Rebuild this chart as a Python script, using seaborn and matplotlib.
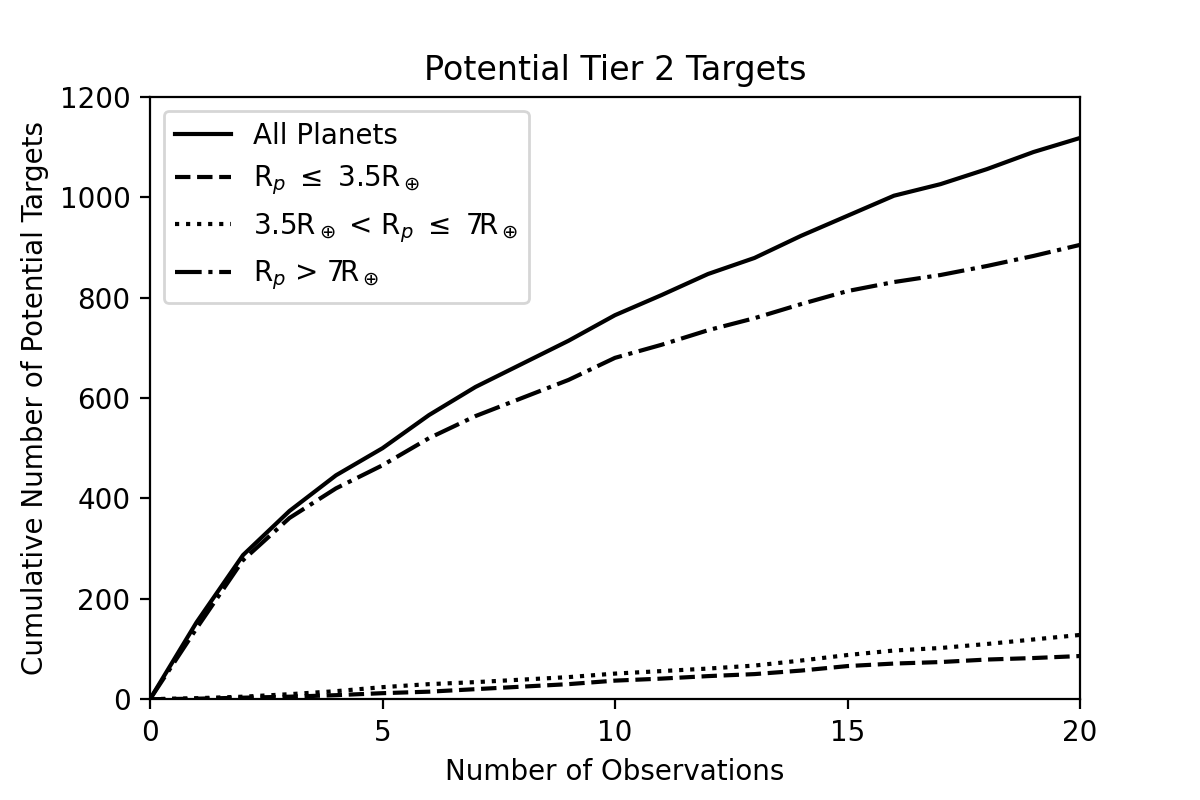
import pandas as pd
import seaborn as sns
import matplotlib
matplotlib.use("Agg")
import matplotlib.pyplot as plt

# values
n_obs = list(range(21))
all_planets = [0, 153, 287, 375, 446, 500, 566, 622, 668, 714, 765,
               805, 847, 879, 923, 963, 1003, 1026, 1056, 1090, 1118]
small = [0, 1, 3, 5, 8, 12, 15, 20, 25, 30, 37,
         41, 46, 50, 57, 66, 71, 74, 79, 82, 86]
medium = [0, 2, 5, 10, 16, 24, 30, 34, 39, 44, 51,
          56, 61, 67, 77, 88, 97, 102, 110, 119, 128]
large = [0, 141, 277, 361, 420, 466, 520, 564, 600, 636, 680,
         706, 735, 759, 787, 813, 831, 845, 863, 883, 905]

labels = ["All Planets",
          r"R$_p$ $\leq$ 3.5R$_\oplus$",
          r"3.5R$_\oplus$ < R$_p$ $\leq$ 7R$_\oplus$",
          r"R$_p$ > 7R$_\oplus$"]
styles = ["-", "--", ":", "-."]


def main():
    fig, ax = plt.subplots(figsize=(6, 4), dpi=200)
    fig.subplots_adjust(left=0.125, right=0.9, top=0.879, bottom=0.126)

    for series, label, ls in zip([all_planets, small, medium, large], labels, styles):
        df = pd.DataFrame({"obs": n_obs, "count": series})
        sns.lineplot(data=df, x="obs", y="count", color="black", linestyle=ls,
                     linewidth=1.5, label=label, ax=ax)

    ax.set_xlim(0, 20)
    ax.set_ylim(0, 1200)
    ax.set_xticks([0, 5, 10, 15, 20])
    ax.set_xlabel("Number of Observations")
    ax.set_ylabel("Cumulative Number of Potential Targets")
    ax.set_title("Potential Tier 2 Targets", fontsize=12)
    ax.legend(loc="upper left")

    fig.savefig("out.png", dpi=200)


main()
